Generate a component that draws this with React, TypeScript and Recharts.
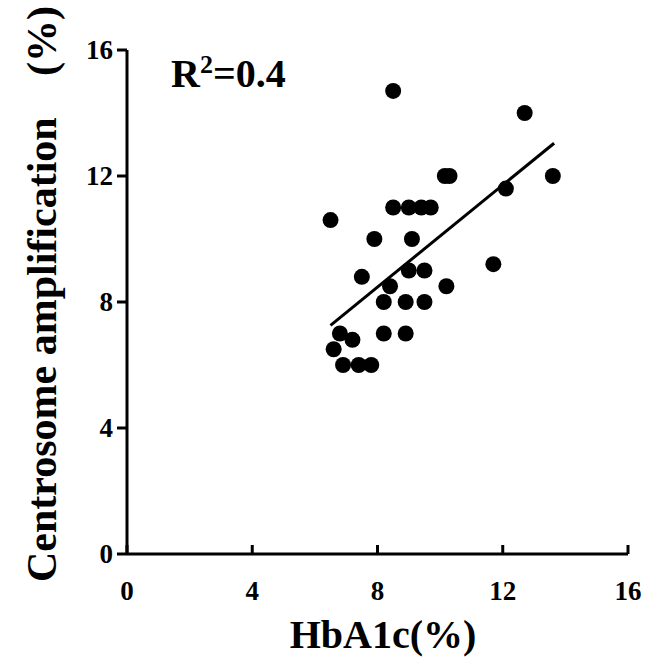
import React from 'react';
import { ScatterChart, Scatter, XAxis, YAxis, ReferenceLine } from 'recharts';

const hba1c = [8.5, 12.7, 10.15, 10.3, 13.6, 12.1, 8.5, 9.0, 9.4, 9.7, 6.5, 7.9, 9.1, 11.7, 7.5, 9.0, 9.5, 8.4, 10.2, 8.2, 8.9, 9.5, 6.8, 7.2, 8.2, 8.9, 6.6, 6.9, 7.4, 7.8];
const centrosome = [14.7, 14.0, 12.0, 12.0, 12.0, 11.6, 11.0, 11.0, 11.0, 11.0, 10.6, 10.0, 10.0, 9.2, 8.8, 9.0, 9.0, 8.5, 8.5, 8.0, 8.0, 8.0, 7.0, 6.8, 7.0, 7.0, 6.5, 6.0, 6.0, 6.0];
const trendX = [6.5, 13.64];
const trendY = [7.26, 13.04];
const xTicks = [0, 4, 8, 12, 16];
const yTicks = [0, 4, 8, 12, 16];

const points = hba1c.map((x, i) => ({ x, y: centrosome[i] }));
const FONT = 'Liberation Serif';

const XTick = (props: any) => {
  const { x, y, payload } = props;
  return (
    <g>
      <line x1={x} y1={y} x2={x} y2={y - 9} stroke="#000" strokeWidth={3} />
      <text x={x} y={y + 46} textAnchor="middle" fontFamily={FONT} fontWeight="bold" fontSize={27} fill="#000">
        {payload.value}
      </text>
    </g>
  );
};

const YTick = (props: any) => {
  const { x, y, payload } = props;
  return (
    <text x={x} y={y + 9} textAnchor="end" fontFamily={FONT} fontWeight="bold" fontSize={27} fill="#000">
      {payload.value}
    </text>
  );
};

const Dot = (props: any) => <circle cx={props.cx} cy={props.cy} r={8} fill="#000" />;

export default function App() {
  return (
    <div style={{ position: 'relative', width: 654, height: 670 }}>
      <style>{`body{margin:0}`}</style>
      <ScatterChart width={654} height={670} margin={{ top: 50, right: 26, bottom: 0, left: 0 }}>
        <XAxis
          type="number"
          dataKey="x"
          domain={[0, 16]}
          ticks={xTicks}
          axisLine={{ stroke: '#000', strokeWidth: 3 }}
          tickLine={false}
          tickSize={0}
          tickMargin={0}
          tick={<XTick />}
          height={116}
          interval={0}
        />
        <YAxis
          type="number"
          dataKey="y"
          domain={[0, 16]}
          ticks={yTicks}
          axisLine={{ stroke: '#000', strokeWidth: 3 }}
          tickLine={{ stroke: '#000', strokeWidth: 3 }}
          tickSize={10}
          tickMargin={4}
          tick={<YTick />}
          width={127}
          interval={0}
        />
        <ReferenceLine
          segment={[{ x: trendX[0], y: trendY[0] }, { x: trendX[1], y: trendY[1] }]}
          stroke="#000"
          strokeWidth={3}
        />
        <Scatter data={points} fill="#000" shape={<Dot />} isAnimationActive={false} />
      </ScatterChart>
      <svg width={654} height={670} style={{ position: 'absolute', left: 0, top: 0, pointerEvents: 'none' }}>
        <text x={171} y={87} fontFamily={FONT} fontWeight="bold" fontSize={40} fill="#000">
          R<tspan fontSize={26} dy={-14}>2</tspan><tspan dy={14}>=0.4</tspan>
        </text>
        <text x={383} y={648} textAnchor="middle" fontFamily={FONT} fontWeight="bold" fontSize={40} fill="#000">
          HbA1c(%)
        </text>
        <text x={56} y={582} transform="rotate(-90 56 582)" fontFamily={FONT} fontWeight="bold" fontSize={42} fill="#000">
          Centrosome amplification<tspan x={562}>(%)</tspan>
        </text>
      </svg>
    </div>
  );
}
